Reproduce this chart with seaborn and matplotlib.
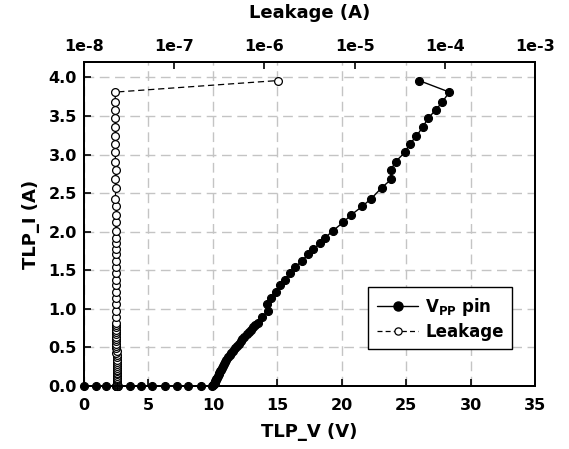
import matplotlib
matplotlib.use("Agg")
import matplotlib.pyplot as plt
import matplotlib.ticker as mticker
from matplotlib.lines import Line2D
import seaborn as sns
import pandas as pd

# ---------------- data ----------------
tlp_v = [0.0, 0.9, 1.73, 2.6, 3.6, 4.4, 5.3, 6.25, 7.2, 8.1, 9.05, 9.95,
         10.03, 10.06, 10.09, 10.13, 10.18, 10.22, 10.26, 10.32, 10.38, 10.45,
         10.5, 10.56, 10.62, 10.69, 10.76, 10.85, 10.93, 11.04, 11.16, 11.3,
         11.43, 11.56, 11.7, 11.85, 12.0, 12.15, 12.3, 12.45, 12.62, 12.8,
         12.97, 13.15, 13.3, 13.5,
         13.8, 14.25, 14.2, 14.55, 14.9, 15.2, 15.6, 15.95, 16.4, 16.9, 17.4, 17.8,
         18.35, 18.7, 19.3, 20.1, 20.75, 21.6, 22.3, 23.1, 23.85, 23.8, 24.2, 24.9,
         25.3, 25.8, 26.3, 26.7, 27.3, 27.8, 28.35, 26.0]
tlp_i = [0.0, 0.0, 0.0, 0.0, 0.0, 0.0, 0.0, 0.0, 0.0, 0.0, 0.0, 0.0,
         0.01, 0.02, 0.03, 0.045, 0.06, 0.075, 0.09, 0.11, 0.13, 0.15,
         0.17, 0.19, 0.21, 0.235, 0.26, 0.285, 0.31, 0.34, 0.37, 0.40,
         0.43, 0.46, 0.49, 0.52, 0.55, 0.58, 0.61, 0.64, 0.67, 0.70,
         0.73, 0.76, 0.79, 0.82,
         0.89, 0.97, 1.06, 1.14, 1.22, 1.31, 1.38, 1.46, 1.54, 1.62, 1.71, 1.77,
         1.86, 1.92, 2.01, 2.12, 2.22, 2.33, 2.43, 2.57, 2.68, 2.80, 2.91, 3.03,
         3.14, 3.24, 3.36, 3.47, 3.58, 3.68, 3.81, 3.96]
leakage = [2.30e-8, 2.31e-8, 2.29e-8, 2.30e-8, 2.32e-8, 2.30e-8, 2.31e-8, 2.29e-8,
           2.30e-8, 2.31e-8, 2.30e-8, 2.32e-8,
           2.33e-8, 2.34e-8, 2.33e-8, 2.35e-8, 2.34e-8, 2.33e-8, 2.34e-8, 2.32e-8, 2.33e-8, 2.34e-8,
           2.33e-8, 2.32e-8, 2.33e-8, 2.32e-8, 2.31e-8, 2.32e-8, 2.31e-8, 2.30e-8, 2.31e-8, 2.30e-8,
           2.29e-8, 2.30e-8, 2.29e-8, 2.28e-8, 2.29e-8, 2.28e-8, 2.29e-8, 2.28e-8, 2.27e-8, 2.28e-8,
           2.27e-8, 2.28e-8, 2.27e-8, 2.27e-8,
           2.27e-8, 2.28e-8, 2.27e-8, 2.26e-8, 2.27e-8, 2.26e-8, 2.27e-8, 2.26e-8,
           2.25e-8, 2.26e-8, 2.25e-8, 2.26e-8, 2.25e-8, 2.24e-8, 2.25e-8, 2.24e-8,
           2.25e-8, 2.24e-8, 2.23e-8, 2.24e-8, 2.23e-8, 2.24e-8, 2.23e-8, 2.22e-8,
           2.23e-8, 2.22e-8, 2.23e-8, 2.22e-8, 2.21e-8, 2.22e-8, 2.22e-8, 1.43e-6]

x_ticks = [0, 5, 10, 15, 20, 25, 30, 35]
y_ticks = [0.0, 0.5, 1.0, 1.5, 2.0, 2.5, 3.0, 3.5, 4.0]
top_ticks = [1e-8, 1e-7, 1e-6, 1e-5, 1e-4, 1e-3]
top_labels = ["1e-8", "1e-7", "1e-6", "1e-5", "1e-4", "1e-3"]

df = pd.DataFrame({"V": tlp_v, "I": tlp_i, "leak": leakage})

# ---------------- style ----------------
sns.set_style("ticks")
plt.rcParams["font.family"] = ["DejaVu Sans"]
plt.rcParams["font.weight"] = "bold"
plt.rcParams["mathtext.fontset"] = "dejavusans"
for key in ["text.color", "axes.labelcolor", "xtick.color", "ytick.color",
            "axes.edgecolor"]:
    plt.rcParams[key] = "black"

fig = plt.figure(figsize=(5.69, 4.49), dpi=100)
ax = fig.add_axes([84 / 569, 63 / 449, 451 / 569, 324 / 449])

sns.lineplot(data=df, x="V", y="I", sort=False, estimator=None, ax=ax,
             color="black", linewidth=1.0, marker="o", markersize=5.8,
             markerfacecolor="black", markeredgecolor="black", clip_on=False,
             legend=False)
ax.set_xlim(0, 35)
ax.set_ylim(0, 4.2)
ax.set_xticks(x_ticks)
ax.set_yticks(y_ticks)
ax.yaxis.set_major_formatter(mticker.FormatStrFormatter("%.1f"))
ax.set_xlabel("TLP_V (V)", fontsize=13, fontweight="bold", labelpad=7)
ax.set_ylabel("TLP_I (A)", fontsize=13, fontweight="bold", labelpad=6)
ax.tick_params(axis="y", direction="in", length=5, width=1.2, labelsize=11.5,
               right=False, pad=5, colors="black")
ax.tick_params(axis="x", direction="in", length=5, width=1.2, labelsize=11.5,
               top=False, pad=9, colors="black")
for lab in ax.get_xticklabels() + ax.get_yticklabels():
    lab.set_fontweight("bold")
ax.grid(True, color="#c4c4c4", linestyle=(0, (7, 4)), linewidth=1.0)
ax.set_axisbelow(True)
for sp in ax.spines.values():
    sp.set_linewidth(1.4)
    sp.set_color("black")

ax2 = ax.twiny()
sns.lineplot(data=df, x="leak", y="I", sort=False, estimator=None, ax=ax2,
             color="black", linewidth=0.9, linestyle=(0, (5, 3)), marker="o",
             markersize=5.6, markerfacecolor="white", markeredgecolor="black",
             markeredgewidth=0.9, clip_on=False, legend=False)
ax2.set_xscale("log")
ax2.set_xlim(1e-8, 1e-3)
ax2.set_ylim(0, 4.2)
ax2.xaxis.set_major_locator(mticker.FixedLocator(top_ticks))
ax2.xaxis.set_major_formatter(mticker.FixedFormatter(top_labels))
ax2.xaxis.set_minor_locator(mticker.NullLocator())
ax2.set_xlabel("Leakage (A)", fontsize=13, fontweight="bold", labelpad=15)
ax2.tick_params(axis="x", direction="in", length=5, width=1.2, labelsize=11.5,
                top=True, bottom=False, pad=6, colors="black")
ax2.tick_params(axis="y", left=False, right=False, labelleft=False, labelright=False)
ax2.set_ylabel("")
for lab in ax2.get_xticklabels():
    lab.set_fontweight("bold")
for sp in ax2.spines.values():
    sp.set_linewidth(1.4)
    sp.set_color("black")

handles = [
    Line2D([], [], color="black", linewidth=1.0, marker="o", markersize=6.5,
           markerfacecolor="black", markeredgecolor="black"),
    Line2D([], [], color="black", linewidth=0.9, linestyle=(0, (4, 2.5)), marker="o",
           markersize=5.2, markerfacecolor="white", markeredgecolor="black",
           markeredgewidth=0.9),
]
leg = ax2.legend(handles, [r"$\mathbf{V_{PP}}$ pin", "Leakage"],
                 loc="lower right", bbox_to_anchor=(0.949, 0.114),
                 borderaxespad=0, frameon=True, fancybox=False, framealpha=1,
                 edgecolor="black", handlelength=2.5, handletextpad=0.4,
                 borderpad=0.5, labelspacing=0.3,
                 prop={"size": 12, "weight": "bold"})
leg.get_frame().set_linewidth(1.0)
for t in leg.get_texts():
    t.set_color("black")

fig.savefig("out.png", dpi=100)
